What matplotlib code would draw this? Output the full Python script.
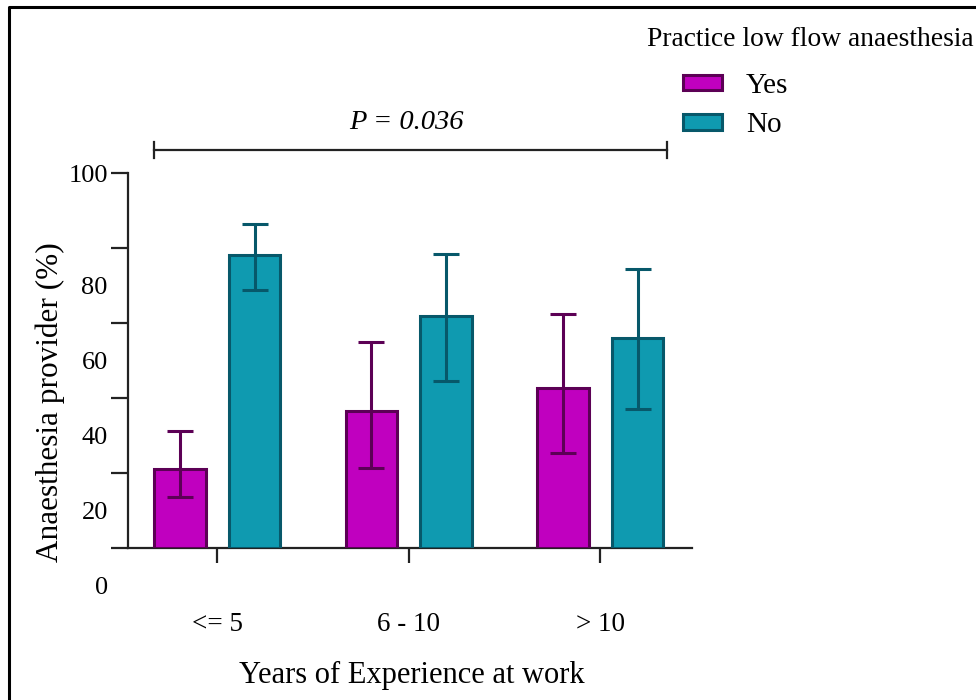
import numpy as np
import matplotlib
matplotlib.use("Agg")
import matplotlib.pyplot as plt
from matplotlib.transforms import ScaledTranslation
from matplotlib.lines import Line2D
from matplotlib.patches import Patch

plt.rcParams['font.family'] = ['Liberation Serif', 'DejaVu Serif']

# ---- data: % of providers with 95% CI, by years of experience ----
groups   = ["<= 5", "6 - 10", "> 10"]
yes_pct  = [21.1, 36.7, 42.7]
yes_lo   = [13.6, 21.3, 25.3]
yes_hi   = [31.2, 54.9, 62.5]
no_pct   = [78.2, 62.0, 56.0]
no_lo    = [68.8, 44.7, 37.1]
no_hi    = [86.5, 78.5, 74.5]
p_text   = "P = 0.036"

YES_FACE, YES_EDGE = "#c000bf", "#5c0055"
NO_FACE,  NO_EDGE  = "#0f9ab0", "#07586a"

fig = plt.figure(figsize=(9.76, 7.0), dpi=100)
ax = fig.add_axes([128/976, 1 - 548.3/700, (692 - 128)/976, (548.3 - 173.3)/700])

x = np.arange(len(groups))
w, off = 0.27, 0.195

def err(v, lo, hi):
    v, lo, hi = map(np.asarray, (v, lo, hi))
    return np.vstack([v - lo, hi - v])

ekw = dict(capsize=9.5, elinewidth=2.2, capthick=2.2)
ax.bar(x - off, yes_pct, w, color=YES_FACE, edgecolor=YES_EDGE, linewidth=2.2,
       yerr=err(yes_pct, yes_lo, yes_hi), error_kw=dict(ecolor=YES_EDGE, **ekw), zorder=3)
ax.bar(x + off, no_pct, w, color=NO_FACE, edgecolor=NO_EDGE, linewidth=2.2,
       yerr=err(no_pct, no_lo, no_hi), error_kw=dict(ecolor=NO_EDGE, **ekw), zorder=3)

ax.set_xlim(-0.466, 2.479)
ax.set_ylim(0, 100)
for s in ("top", "right"):
    ax.spines[s].set_visible(False)
for s in ("left", "bottom"):
    ax.spines[s].set_linewidth(1.6)
    ax.spines[s].set_color("#222222")

ax.set_xticks(x, groups, fontsize=19.5)
ax.tick_params(axis="x", length=11, width=1.6, color="#222222", pad=35, direction="out")
ax.set_yticks(np.arange(0, 101, 20), [str(v) for v in range(0, 101, 20)], fontsize=19)
ax.tick_params(axis="y", length=12, width=1.6, color="#222222", pad=2.5)

# labels below 100 sit half a step lower than their tick
shift = ScaledTranslation(0, -0.375, fig.dpi_scale_trans)
for lab, v in zip(ax.get_yticklabels(), range(0, 101, 20)):
    if v < 100:
        lab.set_transform(lab.get_transform() + shift)

fig.text(50/976, 1 - 402/700, "Anaesthesia provider (%)", rotation=90,
         ha="center", va="center", fontsize=22.5)
fig.text(412/976, 1 - 675/700, "Years of Experience at work",
         ha="center", va="center", fontsize=22)

# significance bracket
xl, xr = x[0] - off - w/2, x[-1] + off + w/2 + 0.02
yb = 106.2
ax.plot([xl, xr], [yb, yb], color="#222222", lw=1.6, clip_on=False)
for xe in (xl, xr):
    ax.plot([xe, xe], [yb - 2.2, yb + 2.2], color="#222222", lw=1.6, clip_on=False)
ax.text((xl + xr) / 2 - 0.02, 113.6, p_text, style="italic", ha="center", va="center",
        fontsize=20.5, clip_on=False)

# legend
fig.text(647/976, 1 - 40/700, "Practice low flow anaesthesia", ha="left", va="center", fontsize=19.8)
handles = [Patch(facecolor=YES_FACE, edgecolor=YES_EDGE, linewidth=2.2, label="Yes"),
           Patch(facecolor=NO_FACE, edgecolor=NO_EDGE, linewidth=2.2, label="No")]
fig.legend(handles=handles, loc="upper left", bbox_to_anchor=(683/976, 1 - 73/700),
           frameon=False, fontsize=21, handlelength=1.35, handleheight=0.45,
           handletextpad=0.8, labelspacing=0.45, borderpad=0, borderaxespad=0)

# frame lines on left and top edges
fig.add_artist(Line2D([8.5/976, 8.5/976, 1], [0, 1 - 6.5/700, 1 - 6.5/700],
                      transform=fig.transFigure, color="black", lw=2.2))

fig.savefig("out.png", dpi=100)
